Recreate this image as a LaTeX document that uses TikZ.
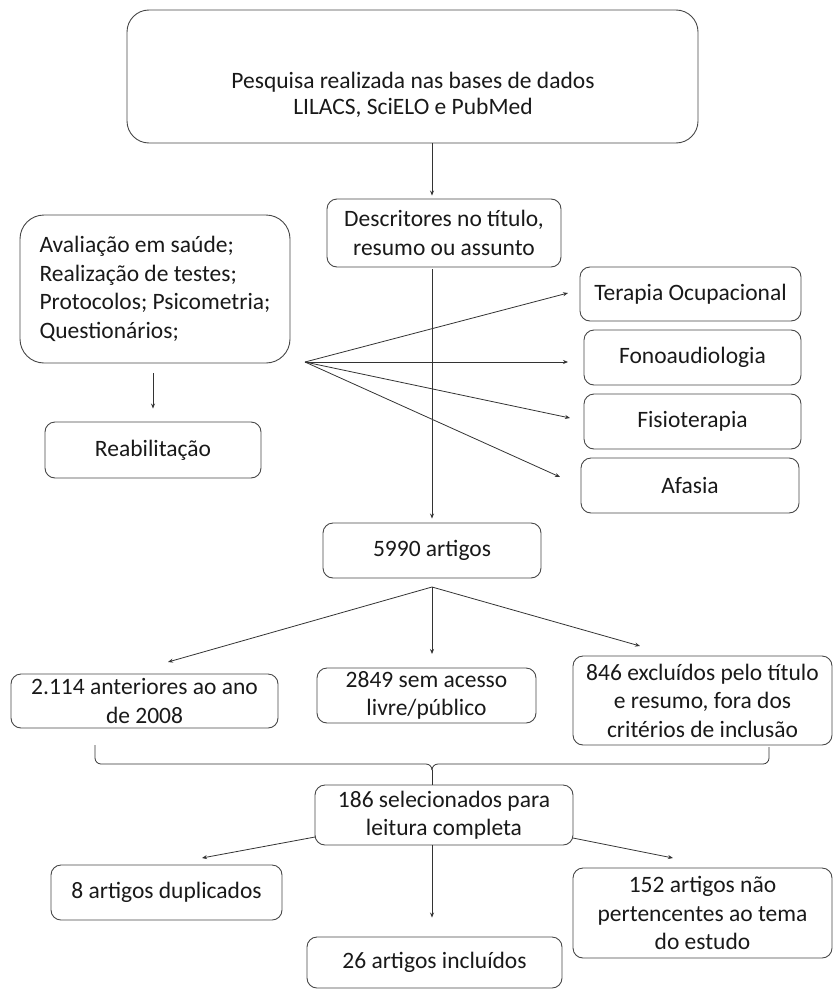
\documentclass[tikz,border=0pt]{standalone}
\usepackage{fontspec}
\setmainfont{Carlito}
\usetikzlibrary{arrows.meta}
\begin{document}
\begin{tikzpicture}[x=1pt,y=-1pt,
  box/.style={draw=black!72, line width=0.9pt, rounded corners=10pt, inner sep=0pt,
    align=center, text=black!90, font=\fontsize{23.5}{28.5}\selectfont},
  conn/.style={draw=black!80, line width=0.8pt},
  arr/.style={conn, -{Stealth[length=5pt,width=4pt]}}]
\useasboundingbox (0,0) rectangle (834,990);

% boxes
\node[box, rounded corners=22pt, minimum width=571pt, minimum height=133pt] (top) at (412.5,76.5) {};
\node[align=center, inner sep=0pt, text=black!90, font=\fontsize{23.5}{26.5}\selectfont] (toptext) at (413,95)
  {Pesquisa realizada nas bases de dados\\LILACS, SciELO e PubMed};
\node[box, minimum width=234pt, minimum height=68pt] (desc) at (444,233)
  {Descritores no título,\\resumo ou assunto};
\node[box, rounded corners=24pt, align=left, minimum width=270pt, minimum height=148pt] (left) at (155,289)
  {Avaliação em saúde;\\Realização de testes;\\Protocolos; Psicometria;\\Questionários;};
\node[box, minimum width=216pt, minimum height=56pt] (reab) at (153,450) {Reabilitação};
\node[box, minimum width=221pt, minimum height=54pt] (tera) at (690.5,294) {Terapia Ocupacional};
\node[box, minimum width=217pt, minimum height=55pt] (fono) at (692.5,357.5) {Fonoaudiologia};
\node[box, minimum width=217pt, minimum height=55pt] (fisio) at (692.5,421.5) {Fisioterapia};
\node[box, minimum width=218pt, minimum height=55pt] (afasia) at (690,485.5) {Afasia};
\node[box, minimum width=218pt, minimum height=55pt] (a5990) at (432,550.5) {5990 artigos};
\node[box, minimum width=267pt, minimum height=54pt] (a2114) at (144.5,701) {2.114 anteriores ao ano\\de 2008};
\node[box, minimum width=219pt, minimum height=55pt] (a2849) at (426.5,695.5) {2849 sem acesso\\livre/público};
\node[box, minimum width=259pt, minimum height=89pt] (a846) at (702.5,700.5)
  {846 excluídos pelo título\\e resumo, fora dos\\critérios de inclusão};
\node[box, minimum width=258pt, minimum height=60pt] (a186) at (444,815) {186 selecionados para\\leitura completa};
\node[box, minimum width=231pt, minimum height=55pt] (dup) at (166.5,892.5) {8 artigos duplicados};
\node[box, minimum width=255pt, minimum height=51pt] (incl) at (434.5,962.5) {26 artigos incluídos};
\node[box, minimum width=259pt, minimum height=90pt] (a152) at (702.5,913)
  {152 artigos não\\pertencentes ao tema\\do estudo};

% helper coordinates
\coordinate (fan1) at (305,362);
\coordinate (t1) at (568,293);
\coordinate (t2) at (568,362);
\coordinate (t3) at (570,418);
\coordinate (t4) at (560,477);
\coordinate (fan2) at (432,587);
\coordinate (u1) at (168,662);
\coordinate (u2) at (432,654);
\coordinate (u3) at (640,646);
\coordinate (v1s) at (315,837);
\coordinate (v1) at (202,858);
\coordinate (v3s) at (573,838);
\coordinate (v3) at (673,858);
\coordinate (brL) at (95,745);
\coordinate (brR) at (769,747);
\coordinate (brC) at (432,770);

% connectors
\draw[arr, shorten >=3pt] (top.south -| a5990) -- (desc.north -| a5990);
\draw[arr, shorten >=4pt, shorten <=2pt] (desc.south -| a5990) -- (a5990.north);
\draw[arr, shorten <=10pt, shorten >=13pt] (left.south -| reab) -- (reab.north);
\draw[arr] (fan1) -- (t1);
\draw[arr] (fan1) -- (t2);
\draw[arr] (fan1) -- (t3);
\draw[arr] (fan1) -- (t4);
\draw[arr] (fan2) -- (u1);
\draw[arr] (fan2) -- (u2);
\draw[arr] (fan2) -- (u3);
\draw[arr] (v1s) -- (v1);
\draw[arr, shorten >=19pt] (a186.south -| a5990) -- (incl.north -| a5990);
\draw[arr] (v3s) -- (v3);

% bracket joining the three exclusion boxes
\draw[conn] (brL) -- (95,758) to[out=-90,in=180] (101,764) -- (426,764) to[out=0,in=90] (brC);
\draw[conn] (brR) -- (769,758) to[out=-90,in=0] (763,764) -- (438,764) to[out=180,in=90] (brC);
\draw[conn] (brC) -- (a186.north -| brC);
\end{tikzpicture}
\end{document}
